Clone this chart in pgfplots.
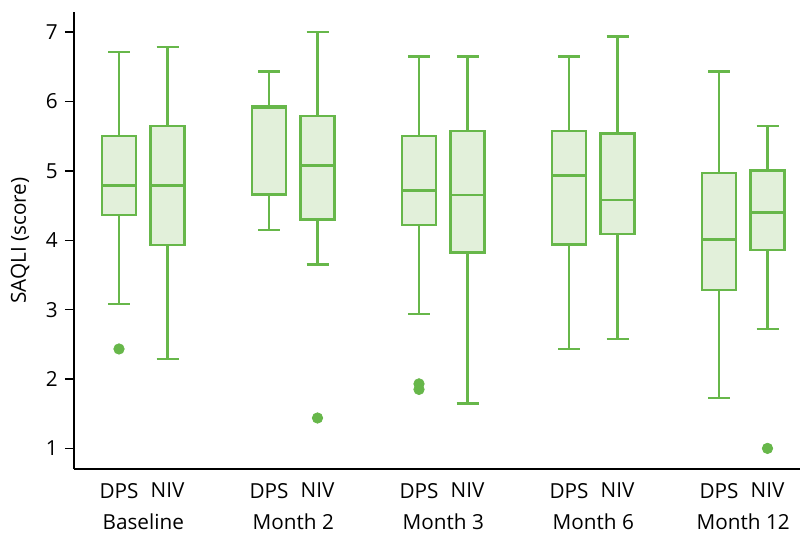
\documentclass[border=0pt]{standalone}
\usepackage{pgfplots}
\pgfplotsset{compat=1.18}
\usepgfplotslibrary{statistics}
\usepackage{fontspec}
\setmainfont{Open Sans}
\definecolor{boxgreen}{HTML}{67B74A}
\definecolor{boxfill}{HTML}{E2F0DA}

% Box-plot summaries: lower whisker, Q1, median, Q3, upper whisker
\newcommand{\bx}[6]{%
  \addplot[boxgreen, line width=1.15bp, fill=boxfill,
    boxplot/draw direction=y,
    boxplot prepared={draw position=#1, lower whisker=#2, lower quartile=#3,
      median=#4, upper quartile=#5, upper whisker=#6,
      box extend=0.68, whisker extend=0.44}] coordinates {};}

\newcommand{\lbl}{\fontsize{10.4}{12}\selectfont}

\begin{document}
\lbl
\begin{tikzpicture}
\path[use as bounding box] (-37bp,-31.8bp) rectangle (363bp,234.6bp);
\begin{axis}[
  at={(0,0)}, anchor=south west,
  scale only axis, width=363bp, height=228.6bp,
  xmin=-0.9, xmax=13.62, ymin=0.70, ymax=7.29,
  axis x line=bottom, axis y line=left,
  axis line style={-, black, line width=0.8bp},
  ytick={1,2,3,4,5,6,7},
  tick align=outside,
  major tick length=4.5bp,
  y tick style={black, line width=0.7bp},
  x tick style={draw=none},
  xtick={0,0.97,3,3.97,6,6.97,9,9.97,12,12.97},
  xticklabels={DPS,NIV,DPS,NIV,DPS,NIV,DPS,NIV,DPS,NIV},
  extra x ticks={0.485,3.485,6.485,9.485,12.485},
  extra x tick labels={Baseline,Month 2,Month 3,Month 6,Month 12},
  extra x tick style={tick label style={yshift=-15.5bp}, x tick style={draw=none}},
  x tick label style={font=\lbl, yshift=1.2bp},
  y tick label style={font=\lbl},
  /pgf/number format/assume math mode=true,
  ylabel={SAQLI (score)},
  ylabel style={font=\lbl},
  every axis y label/.append style={at={(-27bp,114.3bp)}, anchor=center},
  clip=false,
]
\bx{0}{3.078}{4.361}{4.788}{5.505}{6.716}
\bx{0.97}{2.289}{3.933}{4.788}{5.649}{6.788}
\bx{3}{4.149}{4.658}{5.904}{5.933}{6.432}
\bx{3.97}{3.649}{4.298}{5.077}{5.789}{7.0}
\bx{6}{2.934}{4.217}{4.716}{5.505}{6.648}
\bx{6.97}{1.645}{3.822}{4.649}{5.577}{6.648}
\bx{9}{2.433}{3.937}{4.932}{5.577}{6.648}
\bx{9.97}{2.573}{4.087}{4.577}{5.538}{6.937}
\bx{12}{1.722}{3.284}{4.009}{4.971}{6.432}
\bx{12.97}{2.717}{3.861}{4.399}{5.005}{5.649}
% outliers
\addplot[only marks, mark=*, mark size=2.6bp, boxgreen] coordinates {
  (0,2.433) (3.97,1.438) (6,1.93) (6,1.85) (12.97,1.0)};
\end{axis}
\end{tikzpicture}
\end{document}
